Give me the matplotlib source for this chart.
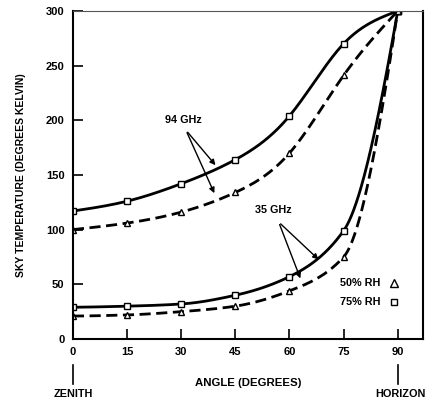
import matplotlib
matplotlib.use('Agg')
import matplotlib.pyplot as plt
import numpy as np

angles = [0, 15, 30, 45, 60, 75, 90]
t94_75 = [117, 126, 142, 164, 204, 270, 300]
t94_50 = [100, 106, 116, 134, 170, 241, 300]
t35_75 = [29, 30, 32, 40, 57, 99, 300]
t35_50 = [21, 22, 25, 30, 44, 75, 300]
xticks = [0, 15, 30, 45, 60, 75, 90]
yticks = [0, 50, 100, 150, 200, 250, 300]

plt.rcParams['font.family'] = ['Liberation Sans', 'DejaVu Sans']
plt.rcParams['font.weight'] = 'bold'


def hermite(x, y, m, xs):
    idx = np.clip(np.searchsorted(x, xs) - 1, 0, len(x) - 2)
    h = x[idx + 1] - x[idx]
    t = (xs - x[idx]) / h
    return ((2 * t**3 - 3 * t**2 + 1) * y[idx] + (t**3 - 2 * t**2 + t) * h * m[idx]
            + (-2 * t**3 + 3 * t**2) * y[idx + 1] + (t**3 - t**2) * h * m[idx + 1])


def pchip(x, y, xs):
    # monotone cubic, used for the steep 35 GHz curves
    x = np.asarray(x, float)
    y = np.asarray(y, float)
    h = np.diff(x)
    d = np.diff(y) / h
    m = np.zeros_like(y)
    for k in range(1, len(x) - 1):
        if d[k - 1] * d[k] > 0:
            w1 = 2 * h[k] + h[k - 1]
            w2 = h[k] + 2 * h[k - 1]
            m[k] = (w1 + w2) / (w1 / d[k - 1] + w2 / d[k])
    m[0] = ((2 * h[0] + h[1]) * d[0] - h[0] * d[1]) / (h[0] + h[1])
    m[-1] = ((2 * h[-1] + h[-2]) * d[-1] - h[-1] * d[-2]) / (h[-1] + h[-2])
    return hermite(x, y, m, xs)


def spline(x, y, xs):
    # natural cubic spline, smooth 94 GHz curves
    x = np.asarray(x, float)
    y = np.asarray(y, float)
    n = len(x)
    h = np.diff(x)
    A = np.zeros((n, n))
    b = np.zeros(n)
    A[0, 0], A[0, 1], b[0] = 2, 1, 3 * (y[1] - y[0]) / h[0]
    for k in range(1, n - 1):
        A[k, k - 1] = 1 / h[k - 1]
        A[k, k] = 2 * (1 / h[k - 1] + 1 / h[k])
        A[k, k + 1] = 1 / h[k]
        b[k] = 3 * ((y[k] - y[k - 1]) / h[k - 1]**2 + (y[k + 1] - y[k]) / h[k]**2)
    A[-1, -2], A[-1, -1], b[-1] = 1, 2, 3 * (y[-1] - y[-2]) / h[-1]
    m = np.linalg.solve(A, b)
    return hermite(x, y, m, xs)


fig = plt.figure(figsize=(4.29, 4.05), dpi=100)
ax = fig.add_axes([0.170, 0.163, 0.816, 0.810])

xs = np.linspace(0, 90, 400)
dash = (0, (4, 2))
for vals, ls, mk, fn in [(t94_75, '-', 's', spline), (t94_50, dash, '^', spline),
                         (t35_75, '-', 's', pchip), (t35_50, dash, '^', pchip)]:
    ax.plot(xs, fn(angles, vals, xs), color='black', lw=2.0, linestyle=ls)
    ax.plot(angles, vals, linestyle='none', marker=mk, ms=5, mfc='white',
            mec='black', mew=1.0)

ax.set_xlim(0, 97)
ax.set_ylim(0, 300)
ax.set_xticks(xticks)
ax.set_yticks(yticks)
ax.tick_params(direction='in', length=7, width=1.2, labelsize=8, pad=6)
for s in ['left', 'bottom', 'right']:
    ax.spines[s].set_linewidth(1.5)
ax.spines['top'].set_linewidth(0.8)
ax.spines['top'].set_color('#555555')

ax.set_ylabel('SKY TEMPERATURE (DEGREES KELVIN)', fontsize=7.5, fontweight='bold',
              labelpad=14)
ax.set_xlabel('ANGLE (DEGREES)', fontsize=8.2, fontweight='bold', labelpad=15)

# annotations
arw = dict(arrowstyle='-|>', color='black', lw=1.0, mutation_scale=8)
ax.text(30.7, 200.5, '94 GHz', fontsize=7.8, ha='center', va='center')
ax.annotate('', xy=(40.0, 157), xytext=(31.3, 191), arrowprops=arw)
ax.annotate('', xy=(39.5, 131), xytext=(31.3, 191), arrowprops=arw)
ax.text(55.4, 117.8, '35 GHz', fontsize=7.8, ha='center', va='center')
ax.annotate('', xy=(68.6, 71), xytext=(57.0, 107), arrowprops=arw)
ax.annotate('', xy=(63.3, 53), xytext=(57.0, 107), arrowprops=arw)

ax.text(74, 51, '50% RH', fontsize=7.8, ha='left', va='center')
ax.plot([89], [51], marker='^', ms=5.5, mfc='white', mec='black', mew=1.0)
ax.text(74, 34, '75% RH', fontsize=7.8, ha='left', va='center')
ax.plot([89], [34], marker='s', ms=5, mfc='white', mec='black', mew=1.0)

# zenith / horizon marks under the axis
fig.add_artist(plt.Line2D([73 / 429, 73 / 429], [1 - 365 / 405, 1 - 384 / 405],
                          color='black', lw=1.2))
fig.add_artist(plt.Line2D([398 / 429, 398 / 429], [1 - 365 / 405, 1 - 384 / 405],
                          color='black', lw=1.2))
fig.text(73 / 429, 1 - 394 / 405, 'ZENITH', fontsize=7.8, ha='center', va='center')
fig.text(400 / 429, 1 - 394 / 405, 'HORIZON', fontsize=7.8, ha='center', va='center')

fig.savefig('out.png', dpi=100)
